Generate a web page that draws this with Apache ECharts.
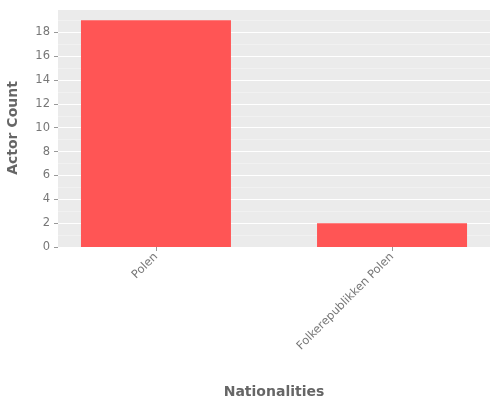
<!DOCTYPE html><html><head><meta charset="utf-8">
<script src="https://cdn.jsdelivr.net/npm/echarts@6/dist/echarts.min.js"></script>
<style>html,body{margin:0;padding:0;background:#fff}#c{width:500px;height:400px}</style></head>
<body><div id="c"></div><script>
const categories = ["Polen", "Folkerepublikken Polen"];
const values = [19, 2];
const chart = echarts.init(document.getElementById('c'), null, {renderer:'canvas'});
chart.setOption({
  animation:false,
  backgroundColor:'#fff',
  grid:{left:58,right:10,top:9,bottom:153,containLabel:false,outerBoundsMode:'none',show:true,backgroundColor:'#EBEBEB',borderWidth:0},
  xAxis:{type:'value',min:0.585,max:2.415,interval:1,name:'Nationalities',nameLocation:'middle',nameGap:138,
    nameTextStyle:{color:'#666',fontSize:14,fontWeight:'bold',fontFamily:'DejaVu Sans'},
    axisLine:{show:false},axisTick:{show:true,length:4,lineStyle:{color:'#999'},customValues:[1,2]},
    axisLabel:{rotate:45,color:'#777',fontSize:11.5,fontFamily:'DejaVu Sans',margin:8,
      customValues:[1,2],formatter:v=>categories[Math.round(v)-1]||''},
    splitLine:{show:false}},
  yAxis:{type:'value',min:0,max:19.95,interval:2,name:'Actor Count',nameLocation:'middle',nameGap:38,
    nameTextStyle:{color:'#666',fontSize:14,fontWeight:'bold',fontFamily:'DejaVu Sans'},
    axisLine:{show:false},axisTick:{show:true,length:4,lineStyle:{color:'#999'}},
    axisLabel:{color:'#777',fontSize:11.5,fontFamily:'DejaVu Sans',showMaxLabel:false},
    splitLine:{lineStyle:{color:'#fff',width:1}},
    minorTick:{show:false,splitNumber:2},minorSplitLine:{show:true,lineStyle:{color:'#F5F5F5',width:0.6}}},
  series:[{type:'bar',data:values.map((v,i)=>[i+1,v]),barWidth:150,itemStyle:{color:'#FF5555'}}]
});
</script></body></html>
